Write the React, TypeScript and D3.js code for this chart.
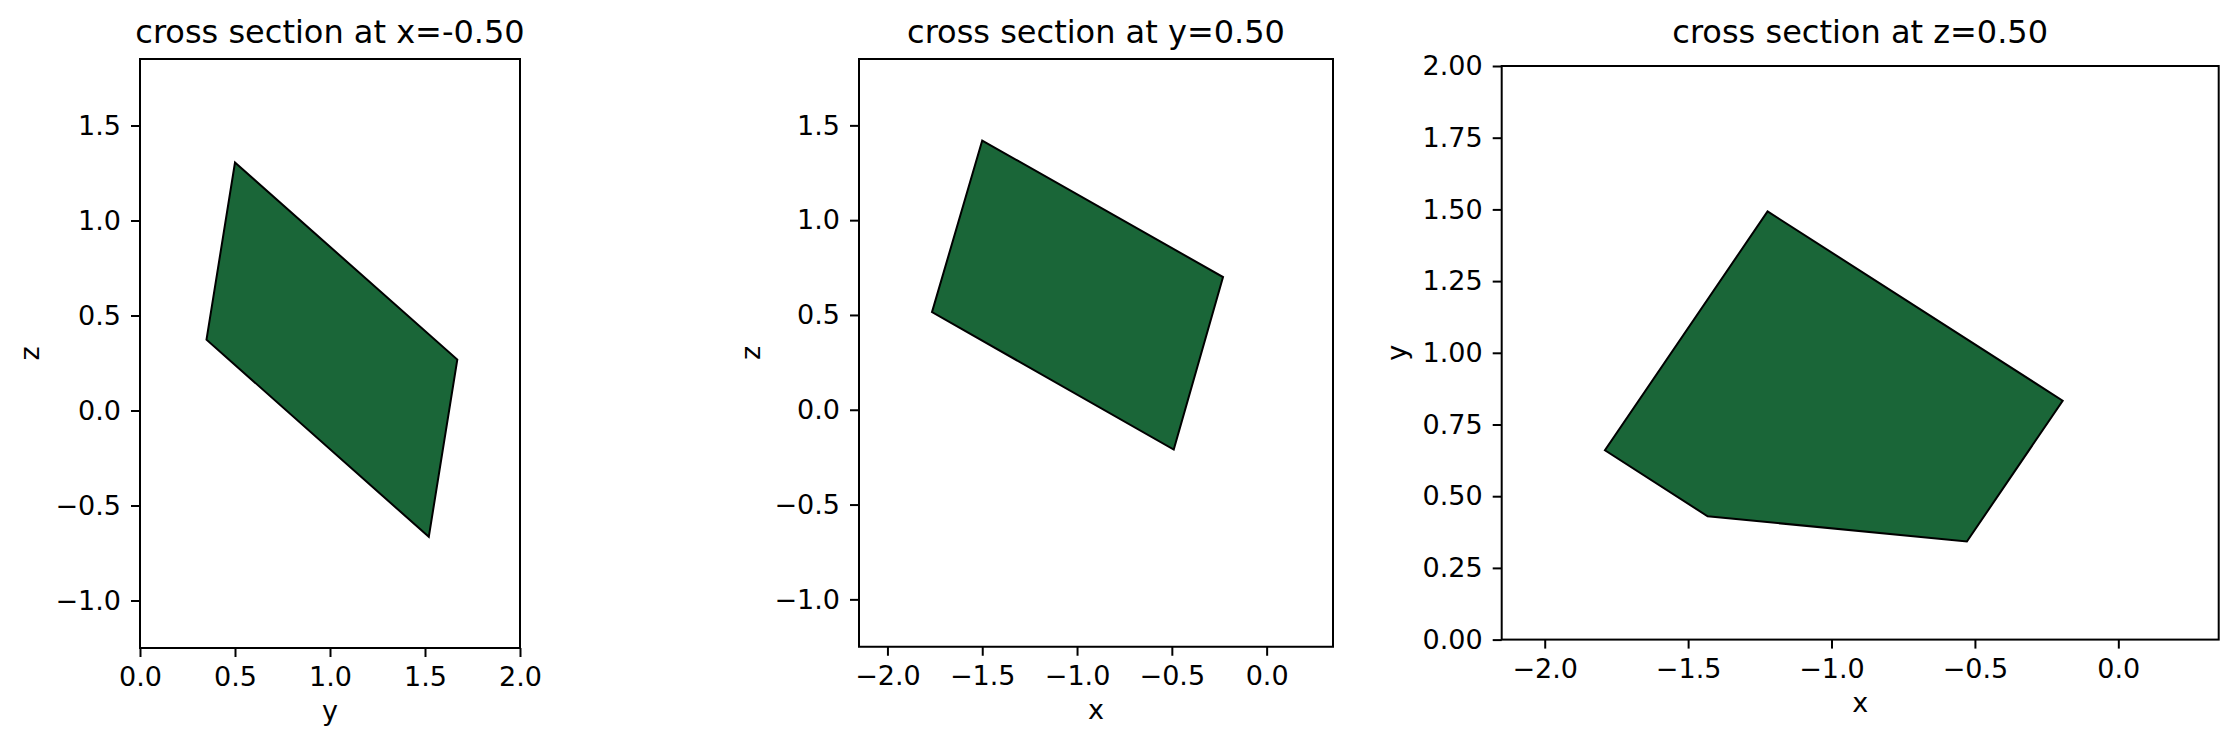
import * as d3 from 'd3'
import { useEffect, useRef } from 'react'

// cross section at x = -0.50 (y, z)
const secX_y = [0.5, 1.67, 1.52, 0.35]
const secX_z = [1.305, 0.268, -0.665, 0.373]
// cross section at y = 0.50 (x, z)
const secY_x = [-1.5, -0.23, -0.49, -1.765]
const secY_z = [1.42, 0.7, -0.21, 0.515]
// cross section at z = 0.50 (x, y)
const secZ_x = [-1.223, -0.194, -0.528, -1.432, -1.79]
const secZ_y = [1.493, 0.833, 0.342, 0.43, 0.66]

const titles = ['cross section at x=-0.50', 'cross section at y=0.50', 'cross section at z=0.50']
const xLabels = ['y', 'x', 'x']
const yLabels = ['z', 'z', 'y']
const ticks12 = [0, 0.5, 1, 1.5, 2]
const ticksX = [-2, -1.5, -1, -0.5, 0]
const ticksZ = [-1, -0.5, 0, 0.5, 1, 1.5]
const ticksY3 = [0, 0.25, 0.5, 0.75, 1, 1.25, 1.5, 1.75, 2]

const FONT = 'DejaVu Sans, sans-serif'
const FILL = '#1a6638'
const TITLE_BASELINE = 43 // all titles share one row height

export default function App() {
  const svgRef = useRef<SVGSVGElement | null>(null)

  useEffect(() => {
    if (!svgRef.current)
      return
    const root = d3.select(svgRef.current)
    root.selectAll('*').remove()

    const panels = [
      { left: 140, top: 59, k: 190, xd: [0, 2], yd: [-1.25, 1.85], xt: ticks12, yt: ticksZ, xf: '.1f', yf: '.1f', xs: secX_y, ys: secX_z, ylOff: 101 },
      { left: 859, top: 59, k: 189.6, xd: [-2.15, 0.35], yd: [-1.25, 1.85], xt: ticksX, yt: ticksZ, xf: '.1f', yf: '.1f', xs: secY_x, ys: secY_z, ylOff: 99 },
      { left: 1501.7, top: 66, k: 286.8, xd: [-2.15, 0.35], yd: [0, 2], xt: ticksX, yt: ticksY3, xf: '.1f', yf: '.2f', xs: secZ_x, ys: secZ_y, ylOff: 96 },
    ]

    panels.forEach((p, i) => {
      const w = (p.xd[1] - p.xd[0]) * p.k
      const h = (p.yd[1] - p.yd[0]) * p.k
      const g = root.append('g').attr('transform', `translate(${p.left},${p.top})`)
      const x = d3.scaleLinear().domain(p.xd).range([0, w])
      const y = d3.scaleLinear().domain(p.yd).range([h, 0])

      const pts = p.xs.map((v, j) => [x(v), y(p.ys[j])] as [number, number])
      g.append('path')
        .attr('d', d3.line()(pts) + 'Z')
        .attr('fill', FILL)
        .attr('stroke', '#000')
        .attr('stroke-width', 2)
        .attr('stroke-linejoin', 'miter')

      const xa = g.append('g')
        .attr('transform', `translate(0,${h})`)
        .call(d3.axisBottom(x).tickValues(p.xt).tickFormat(d3.format(p.xf) as any).tickSize(9).tickPadding(10))
      const ya = g.append('g')
        .call(d3.axisLeft(y).tickValues(p.yt).tickFormat(d3.format(p.yf) as any).tickSize(9).tickPadding(10))
      for (const a of [xa, ya]) {
        a.select('.domain').remove()
        a.selectAll('line').attr('stroke', '#000').attr('stroke-width', 2)
        a.selectAll('text').attr('font-family', FONT).attr('font-size', 27).attr('fill', '#000')
      }

      g.append('rect')
        .attr('width', w).attr('height', h)
        .attr('fill', 'none').attr('stroke', '#000').attr('stroke-width', 2)

      g.append('text')
        .attr('x', w / 2).attr('y', TITLE_BASELINE - p.top)
        .attr('text-anchor', 'middle')
        .attr('font-family', FONT).attr('font-size', 32)
        .text(titles[i])

      g.append('text')
        .attr('x', w / 2).attr('y', h + 72)
        .attr('text-anchor', 'middle')
        .attr('font-family', FONT).attr('font-size', 27)
        .text(xLabels[i])

      g.append('text')
        .attr('transform', `translate(${-p.ylOff},${h / 2}) rotate(-90)`)
        .attr('text-anchor', 'middle')
        .attr('font-family', FONT).attr('font-size', 27)
        .text(yLabels[i])
    })
  }, [])

  return (
    <svg ref={svgRef} width={2238} height={748}
      style={{ position: 'absolute', left: 0, top: 0, background: '#fff' }} />
  )
}
